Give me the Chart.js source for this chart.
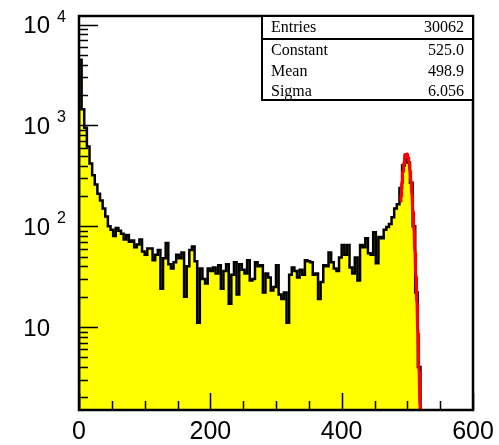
<!DOCTYPE html>
<html>
<head>
<meta charset="utf-8">
<script src="https://cdn.jsdelivr.net/npm/chart.js@4"></script>
<style>
  html, body { margin: 0; padding: 0; background: #fff; }
  #wrap { width: 499px; height: 445px; }
</style>
</head>
<body>
<div id="wrap"><canvas id="histChart" width="499" height="445"></canvas></div>
<script>
// ─── histogram contents (bin width 4, starting at 0) ───
const binWidth = 4;
const counts = [
  4500, 1450, 950, 620, 420, 320, 260, 210, 180, 150,
  125, 100, 92, 80, 96, 90, 84, 74, 82, 70,
  72, 62, 66, 74, 56, 52, 60, 60, 46, 52,
  58, 24, 48, 68, 42, 38, 44, 52, 48, 55,
  20, 40, 58, 63, 45, 11, 38, 30, 27, 38,
  36, 39, 34, 41, 24, 36, 42, 17, 33, 44,
  21, 42, 37, 34, 46, 29, 30, 44, 40, 41,
  22, 34, 31, 23, 25, 41, 21, 19, 22, 11,
  33, 39, 36, 31, 37, 33, 46, 45, 44, 33,
  34, 19, 28, 41, 40, 55, 44, 38, 36, 49,
  65, 52, 65, 39, 34, 49, 29, 65, 62, 76,
  54, 52, 87, 43, 78, 76, 92, 98, 105, 123,
  150, 165, 240, 400, 510, 430, 270, 100, 22, 4
];

// fit results shown in the stats box
const statLabels = ['Entries', 'Constant', 'Mean', 'Sigma'];
const statValues = ['30062', '525.0', '498.9', '6.056'];
const fitRange = [490, 525];

// axis ticks
const xMajorTicks = [0, 200, 400, 600];
const xMinorTicks = [50, 100, 150, 250, 300, 350, 450, 500, 550];
const yMajorTicks = [10, 100, 1000, 10000];
const yExponents = ['', '2', '3', '4'];
const yMinorTicks = [2, 3, 4, 5, 6, 7, 8, 9, 20, 30, 40, 50, 60, 70, 80, 90,
  200, 300, 400, 500, 600, 700, 800, 900, 2000, 3000, 4000, 5000, 6000, 7000, 8000, 9000];

// step outline: closed at both ends below the axis minimum
const histPoints = [{ x: 0, y: 0.5 }];
counts.forEach((c, i) => histPoints.push({ x: i * binWidth, y: c }));
histPoints.push({ x: counts.length * binWidth, y: 0.5 });

// gaussian fit from the stats box parameters
const fitConst = parseFloat(statValues[1]);
const fitMean = parseFloat(statValues[2]);
const fitSigma = parseFloat(statValues[3]);
const fitPoints = [];
for (let x = fitRange[0]; x <= fitRange[1]; x += 0.25) {
  const d = (x - fitMean) / fitSigma;
  fitPoints.push({ x: x, y: fitConst * Math.exp(-0.5 * d * d) });
}

const frameAndLabels = {
  id: 'frameAndLabels',
  afterDatasetsDraw(chart) {
    const { ctx, chartArea: a } = chart;
    const xs = chart.scales.x, ys = chart.scales.y;
    ctx.save();
    ctx.strokeStyle = '#000';
    ctx.fillStyle = '#000';

    // tick marks drawn inside the frame
    ctx.lineWidth = 1.5;
    ctx.beginPath();
    xMajorTicks.forEach(v => {
      const px = Math.round(xs.getPixelForValue(v)) + 0.5;
      ctx.moveTo(px, a.bottom); ctx.lineTo(px, a.bottom - 17);
    });
    xMinorTicks.forEach(v => {
      const px = Math.round(xs.getPixelForValue(v)) + 0.5;
      ctx.moveTo(px, a.bottom); ctx.lineTo(px, a.bottom - 9);
    });
    yMajorTicks.forEach(v => {
      const py = Math.round(ys.getPixelForValue(v)) + 0.5;
      ctx.moveTo(a.left, py); ctx.lineTo(a.left + 19, py);
    });
    yMinorTicks.forEach(v => {
      const py = Math.round(ys.getPixelForValue(v)) + 0.5;
      ctx.moveTo(a.left, py); ctx.lineTo(a.left + 9, py);
    });
    ctx.stroke();

    // frame
    ctx.lineWidth = 2.5;
    ctx.strokeRect(a.left, a.top, a.right - a.left, a.bottom - a.top);

    // x labels
    ctx.font = '25px "Liberation Sans", Arial, sans-serif';
    ctx.textAlign = 'center';
    ctx.textBaseline = 'middle';
    xMajorTicks.forEach(v => {
      ctx.fillText(String(v), xs.getPixelForValue(v), a.bottom + 22);
    });

    // y labels as 10 with a raised exponent
    yMajorTicks.forEach((v, i) => {
      const py = ys.getPixelForValue(v);
      ctx.font = '24px "Liberation Sans", Arial, sans-serif';
      ctx.textAlign = 'right';
      ctx.textBaseline = 'middle';
      ctx.fillText('10', 50, py + 2);
      if (yExponents[i]) {
        ctx.font = '16px "Liberation Sans", Arial, sans-serif';
        ctx.textAlign = 'left';
        ctx.textBaseline = 'alphabetic';
        ctx.fillText(yExponents[i], 57, py - 3);
      }
    });

    // stats box
    const bx = 262, by = a.top, bw = a.right - bx, rowH = [23, 21, 21, 19];
    const bh = rowH.reduce((s, h) => s + h, 0);
    ctx.fillStyle = '#fff';
    ctx.fillRect(bx, by, bw, bh);
    ctx.lineWidth = 2;
    ctx.strokeRect(bx, by, bw, bh);
    ctx.beginPath();
    ctx.moveTo(bx, by + rowH[0]); ctx.lineTo(bx + bw, by + rowH[0]);
    ctx.stroke();
    ctx.fillStyle = '#000';
    ctx.font = '16px "Liberation Serif", "Times New Roman", serif';
    ctx.textBaseline = 'middle';
    let rowY = by;
    statLabels.forEach((lbl, i) => {
      const cy = rowY + rowH[i] / 2 + (i === 0 ? 0 : 1);
      ctx.textAlign = 'left';
      ctx.fillText(lbl, bx + 9, cy);
      ctx.textAlign = 'right';
      ctx.fillText(statValues[i], bx + bw - 9, cy);
      rowY += rowH[i];
    });
    ctx.restore();
  }
};

new Chart(document.getElementById('histChart'), {
  type: 'line',
  data: {
    datasets: [{
      label: 'hist',
      data: histPoints,
      stepped: 'before',
      borderColor: '#000',
      borderWidth: 2.5,
      backgroundColor: '#ffff00',
      fill: 'start',
      pointRadius: 0,
      order: 2
    }, {
      label: 'fit',
      data: fitPoints,
      borderColor: '#ff0000',
      borderWidth: 3,
      fill: false,
      pointRadius: 0,
      tension: 0,
      order: 1
    }]
  },
  options: {
    responsive: false,
    animation: false,
    layout: { padding: { left: 79, top: 16, right: 26, bottom: 35 } },
    plugins: {
      legend: { display: false },
      tooltip: { enabled: false }
    },
    scales: {
      x: { type: 'linear', min: 0, max: 600, display: false },
      y: { type: 'logarithmic', min: 1.5, max: 12200, display: false }
    }
  },
  plugins: [frameAndLabels]
});
</script>
</body>
</html>
